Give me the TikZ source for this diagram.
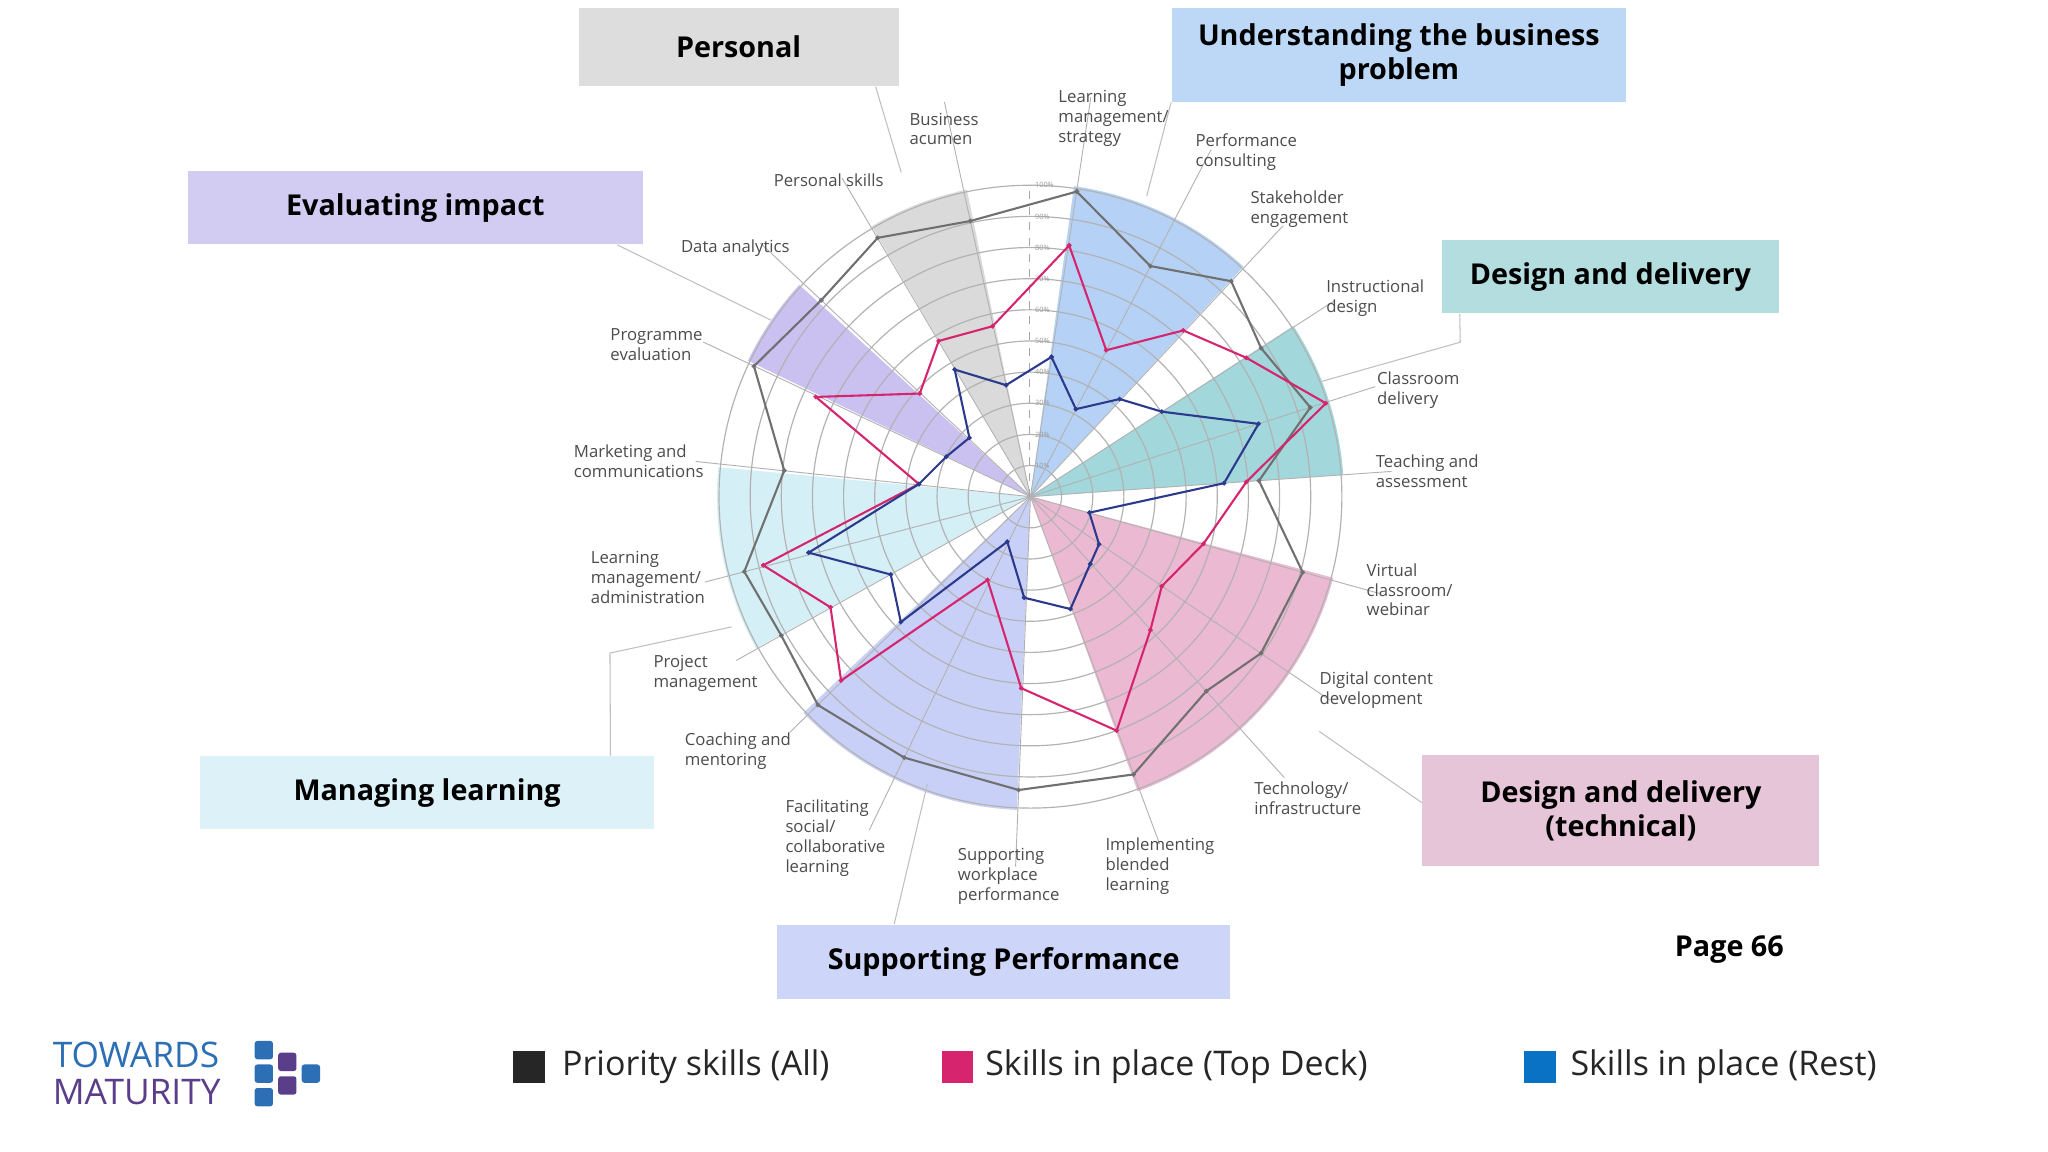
\documentclass[tikz,border=0pt]{standalone}
\usepackage{fontspec}
\setmainfont{Open Sans}
\usetikzlibrary{calc}
\definecolor{cgrey}{HTML}{707070}
\definecolor{cpink}{HTML}{D6246E}
\definecolor{cnavy}{HTML}{2B3A8C}
\definecolor{wgrey}{HTML}{D4D4D4}
\definecolor{wblue}{HTML}{A9CBF5}
\definecolor{wteal}{HTML}{92D1D6}
\definecolor{wpink}{HTML}{E8ADCB}
\definecolor{wviolet}{HTML}{C0C8F6}
\definecolor{wcyan}{HTML}{CDEDF4}
\definecolor{wpurple}{HTML}{C1B7EE}
\definecolor{bgrey}{HTML}{DDDDDD}
\definecolor{bblue}{HTML}{BCD8F6}
\definecolor{blav}{HTML}{D2CCF2}
\definecolor{bteal}{HTML}{B4DDE0}
\definecolor{bcyan}{HTML}{DDF2F8}
\definecolor{bpink}{HTML}{E6C5D9}
\definecolor{bviolet}{HTML}{CDD5F8}
\definecolor{lblue}{HTML}{0A72C4}
\definecolor{logoblue}{HTML}{2C6FB5}
\definecolor{logopurple}{HTML}{5B3E8A}
\begin{document}
\begin{tikzpicture}[x=0.5pt,y=-0.5pt,
  catbox/.style={fill=#1,draw=none,inner sep=0pt,align=center,font=\fontsize{11}{13}\selectfont\bfseries},
  axlabel/.style={anchor=north west,inner sep=0pt,align=left,text=black!70,font=\fontsize{6.4}{7.6}\selectfont},
  spoke/.style={draw=black!30,line width=0.35pt},
  ring/.style={draw=black!30,line width=0.45pt},
  leader/.style={draw=black!25,line width=0.4pt},
  legtext/.style={anchor=west,inner sep=0pt,font=\fontsize{13}{15}\selectfont,text=black!85},
  pct/.style={inner sep=0pt,text=black!40,font=\fontsize{2.8}{3}\selectfont,anchor=west}]
\useasboundingbox (0,0) rectangle (1568,882);
\fill[white] (0,0) rectangle (1568,882);
\begin{scope}[shift={(536,122.5)},scale=0.3222]
\coordinate (C) at (785,800);
% wedges
\fill[wgrey,opacity=0.85] (C) -- ++(-30.4-90:745) arc[start angle=-120.4,end angle=-101.7,radius=745] -- cycle;
\fill[wblue,opacity=0.85] (C) -- ++(8-90:745) arc[start angle=-82,end angle=-47.2,radius=745] -- cycle;
\fill[wteal,opacity=0.85] (C) -- ++(57-90:745) arc[start angle=-33,end angle=-4,radius=745] -- cycle;
\fill[wpink,opacity=0.85] (C) -- ++(105-90:745) arc[start angle=15,end angle=70,radius=745] -- cycle;
\fill[wviolet,opacity=0.85] (C) -- ++(182.5-90:745) arc[start angle=92.5,end angle=136.4,radius=745] -- cycle;
\fill[wcyan,opacity=0.85] (C) -- ++(241.1-90:745) arc[start angle=151.1,end angle=185.4,radius=745] -- cycle;
\fill[wpurple,opacity=0.85] (C) -- ++(295.7-90:745) arc[start angle=205.7,end angle=222.5,radius=745] -- cycle;
% rings
\foreach \k in {1,...,10} {\draw[ring] (C) circle[radius=74*\k];}
% spokes
\foreach \c/\len in {8.6/960,27.5/930,43/880,57.2/860,72.3/860,86/860,105.5/860,124.2/860,137.9/900,159.6/880,182.3/880,205.8/880,225.6/800,240.9/800,255.3/800,276/800,295.3/860,313.2/880,329.4/880,347.7/960} {\draw[spoke] (C) -- ++(\c-90:\len);}
% axis
\draw[black!35,dashed,line width=0.4pt] (783,800) -- (783,60);
\foreach \k in {1,...,10} {\node[pct] at (795,800-74*\k) {\the\numexpr\k*10\relax\%};}
% series
\draw[cgrey,line width=0.8pt] plot[mark=*,mark size=1.3pt,mark options={fill=cgrey,draw=cgrey}] coordinates {(895,75) (1070,252) (1262,288) (1333,447) (1450,588) (1328,762) (1432,980) (1333,1172) (1203,1262) (1030,1460) (757,1497) (485,1420) (280,1295) (193,1130) (105,978) (200,738) (128,490) (288,333) (422,185) (642,145) (895,75)};
\draw[cpink,line width=0.8pt] plot[mark=*,mark size=1.3pt,mark options={fill=cpink,draw=cpink}] coordinates {(877,203) (965,452) (1148,405) (1298,470) (1487,578) (1298,765) (1196,912) (1097,1013) (1070,1117) (990,1356) (763,1255) (683,998) (335,1237) (310,1063) (150,963) (520,770) (275,563) (522,555) (567,430) (695,395) (877,203)};
\draw[cnavy,line width=0.8pt] plot[mark=*,mark size=1.3pt,mark options={fill=cnavy,draw=cnavy}] coordinates {(835,468) (893,592) (997,568) (1097,598) (1327,627) (1245,768) (925,838) (948,913) (927,960) (880,1067) (770,1040) (730,907) (477,1098) (453,985) (258,933) (520,770) (585,705) (640,660) (605,498) (727,535) (835,468)};
\end{scope}
% axis labels
\node[axlabel] (l1) at (810,69) {Learning\\management/\\strategy};
\node[axlabel] (l2) at (915,102) {Performance\\consulting};
\node[axlabel] (l3) at (957,146) {Stakeholder\\engagement};
\node[axlabel] (l4) at (1015,214) {Instructional\\design};
\node[axlabel] (l5) at (1054,284) {Classroom\\delivery};
\node[axlabel] (l6) at (1053,348) {Teaching and\\assessment};
\node[axlabel] (l7) at (1046,431) {Virtual\\classroom/\\webinar};
\node[axlabel] (l8) at (1010,514) {Digital content\\development};
\node[axlabel] (l9) at (960,598) {Technology/\\infrastructure};
\node[axlabel] (l10) at (846,641) {Implementing\\blended\\learning};
\node[axlabel] (l11) at (733,649) {Supporting\\workplace\\performance};
\node[axlabel] (l12) at (601,612) {Facilitating\\social/\\collaborative\\learning};
\node[axlabel] (l13) at (524,561) {Coaching and\\mentoring};
\node[axlabel] (l14) at (500,501) {Project\\management};
\node[axlabel] (l15) at (452,422) {Learning\\management/\\administration};
\node[axlabel] (l16) at (439,340) {Marketing and\\communications};
\node[axlabel] (l17) at (467,251) {Programme\\evaluation};
\node[axlabel] (l18) at (521,183) {Data analytics};
\node[axlabel] (l19) at (592,133) {Personal skills};
\node[axlabel] (l20) at (696,86) {Business\\acumen};
% category boxes
\node[catbox=bgrey,minimum width=122.5pt,minimum height=30pt] (bp) at (565.5,36) {Personal};
\node[catbox=bblue,minimum width=174pt,minimum height=36pt] (bu) at (1071,42) {Understanding the business\\problem};
\node[catbox=blav,minimum width=174pt,minimum height=28pt] (be) at (318,159) {Evaluating impact};
\node[catbox=bteal,minimum width=129pt,minimum height=28pt] (bd) at (1233,212) {Design and delivery};
\node[catbox=bcyan,minimum width=174pt,minimum height=28pt] (bm) at (327,607) {Managing learning};
\node[catbox=bpink,minimum width=152pt,minimum height=42.5pt] (bt) at (1241,620.5) {Design and delivery\\(technical)};
\node[catbox=bviolet,minimum width=173.5pt,minimum height=28.5pt] (bs) at (768.5,736.5) {Supporting Performance};
\node[inner sep=0pt,font=\fontsize{11}{13}\selectfont\bfseries] (pg) at (1324,727) {Page 66};
% leaders
\coordinate (q1) at (690,132); \draw[leader] (bp.south east) ++(-18,0) -- (q1);
\coordinate (q2) at (590,245); \draw[leader] (be.south east) ++(-20,0) -- (q2);
\coordinate (q3) at (878,150); \draw[leader] (bu.south west) ++(0,0) -- (q3);
\coordinate (q4) at (1118,262); \coordinate (q4b) at (1012,292); \draw[leader] (bd.south west) ++(14,0) -- (q4) -- (q4b);
\coordinate (q5) at (467,500); \coordinate (q5b) at (560,480); \draw[leader] (bm.north east) ++(-34,0) -- (q5) -- (q5b);
\coordinate (q6) at (1010,560); \draw[leader] (bt.west) ++(0,-6) -- (q6);
\coordinate (q7) at (710,600); \draw[leader] (bs.north west) ++(90,0) -- (q7);
% legend
\fill[black!85] (393,805) rectangle (417,829);
\node[legtext] (t1) at (430,817) {Priority skills (All)};
\fill[cpink] (721,805) rectangle (745,829);
\node[legtext] (t2) at (754,817) {Skills in place (Top Deck)};
\fill[lblue] (1167,805) rectangle (1191,829);
\node[legtext] (t3) at (1202,817) {Skills in place (Rest)};
% logo
\node[anchor=west,inner sep=0pt,text=logoblue,font=\fontsize{13.5}{14}\selectfont] (lg1) at (40,808) {TOWARDS};
\node[anchor=west,inner sep=0pt,text=logopurple,font=\fontsize{13.5}{14}\selectfont] (lg2) at (40,836) {MATURITY};
\foreach \x/\y/\c in {195/797/logoblue,195/815/logoblue,213/806/logopurple,213/824/logopurple,231/815/logoblue,195/833/logoblue} {\fill[\c,rounded corners=1pt] (\x,\y) rectangle ++(14,14);}
\end{tikzpicture}
\end{document}
